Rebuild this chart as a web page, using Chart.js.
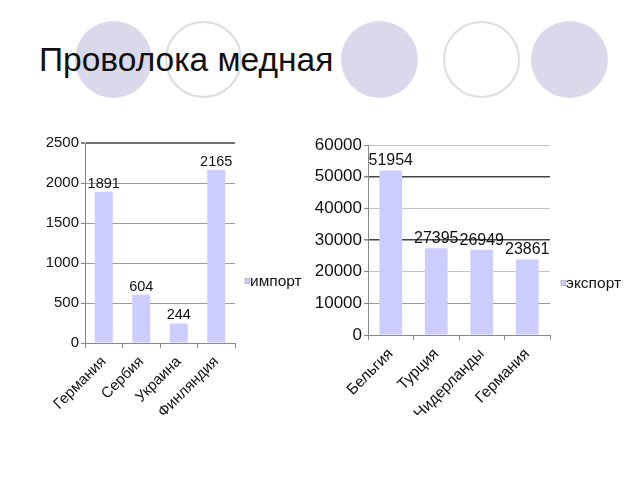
<!DOCTYPE html>
<html><head><meta charset="utf-8">
<script src="https://cdn.jsdelivr.net/npm/chart.js@4"></script>
<style>
html,body{margin:0;padding:0;background:#fff;width:640px;height:480px;overflow:hidden}
.c{position:absolute;border-radius:50%;box-sizing:border-box;width:77px;height:77px;top:21px}
.f{background:#d9d9eb}
.o{border:2px solid #dcdce2;background:#fff}
#title{position:absolute;left:39px;top:43px;font-family:'Liberation Sans',Arial,sans-serif;font-size:33.5px;line-height:34px;color:#111;white-space:nowrap}
canvas{position:absolute;left:0;top:0}
</style></head><body>
<div class="c f" style="left:75px"></div>
<div class="c o" style="left:165px"></div>
<div class="c f" style="left:341px"></div>
<div class="c o" style="left:443px"></div>
<div class="c f" style="left:531px"></div>
<div id="title">Проволока медная</div>
<canvas id="c1" width="640" height="480"></canvas>
<canvas id="c2" width="640" height="480"></canvas>
<script>
const importCategories = ['Германия', 'Сербия', 'Украина', 'Финляндия'];
const importValues = [1891, 604, 244, 2165];
const importLabel = 'импорт';
const importMax = 2500;
const importStep = 500;

const exportCategories = ['Бельгия', 'Турция', 'Нидерланды', 'Германия'];
const exportValues = [51954, 27395, 26949, 23861];
const exportLabel = 'экспорт';
const exportMax = 60000;
const exportStep = 10000;

const FONT = "'Liberation Sans', Arial, sans-serif";
const BAR = '#ccccff';

const extras = {
  id: 'extras',
  afterDatasetsDraw(chart, args, opts) {
    const ctx = chart.ctx;
    const meta = chart.getDatasetMeta(0);
    const ds = chart.data.datasets[0];
    ctx.save();
    ctx.fillStyle = '#111';
    ctx.font = opts.labelSize + 'px ' + FONT;
    ctx.textAlign = 'center';
    ctx.textBaseline = 'alphabetic';
    meta.data.forEach((el, i) => {
      ctx.fillText(String(ds.data[i]), el.x, el.y - opts.labelGap);
    });
    // legend
    const ca = chart.chartArea;
    const x = ca.right + opts.legendDx;
    const y = opts.legendY;
    ctx.fillStyle = BAR;
    ctx.fillRect(x, y - 2.5, 5, 5);
    ctx.strokeStyle = '#9a9ab0';
    ctx.lineWidth = 0.6;
    ctx.strokeRect(x, y - 2.5, 5, 5);
    ctx.fillStyle = '#111';
    ctx.font = opts.legendSize + 'px ' + FONT;
    ctx.textAlign = 'left';
    ctx.textBaseline = 'middle';
    ctx.fillText(ds.label, x + 5, y + 1);
    ctx.restore();
  }
};

function makeChart(id, cats, vals, label, max, step, cfg) {
  return new Chart(document.getElementById(id), {
    type: 'bar',
    data: {
      labels: cats,
      datasets: [{
        label: label,
        data: vals,
        backgroundColor: BAR,
        borderWidth: 0,
        categoryPercentage: 1,
        barPercentage: cfg.barPct
      }]
    },
    options: {
      responsive: false,
      animation: false,
      devicePixelRatio: 1,
      layout: { padding: cfg.padding },
      plugins: {
        legend: { display: false },
        tooltip: { enabled: false },
        extras: cfg.extras
      },
      scales: {
        x: {
          offset: true,
          grid: { offset: true, drawOnChartArea: false, tickLength: 5, tickColor: '#888' },
          border: { color: '#888', width: 1 },
          ticks: { minRotation: 45, maxRotation: 45, color: '#111', padding: 5,
                   font: { family: FONT, size: cfg.catSize } },
          afterFit(s) { s.height = 80; }
        },
        y: {
          min: 0, max: max,
          ticks: { stepSize: step, color: '#111', padding: 2,
                   callback: (v) => String(v),
                   font: { family: FONT, size: cfg.tickSize } },
          grid: {
            tickLength: 4,
            tickColor: '#888',
            color: (c) => cfg.gridColor(c.tick ? c.tick.value : 0),
            lineWidth: (c) => cfg.gridWidth(c.tick ? c.tick.value : 0)
          },
          border: { color: '#888', width: 1 },
          afterFit(s) { s.width = cfg.yWidth; }
        }
      }
    },
    plugins: [extras]
  });
}

makeChart('c1', importCategories, importValues, importLabel, importMax, importStep, {
  barPct: 0.48,
  padding: { left: 40, top: 143, right: 405, bottom: 57 },
  yWidth: 45,
  tickSize: 15,
  catSize: 15,
  gridColor: v => v === 2500 ? '#707070' : '#9a9a9a',
  gridWidth: v => v === 2500 ? 2 : 1,
  extras: { labelSize: 14.5, labelGap: 4, legendDx: 10, legendY: 281, legendSize: 15.5 }
});

makeChart('c2', exportCategories, exportValues, exportLabel, exportMax, exportStep, {
  barPct: 0.5,
  padding: { left: 313, top: 145, right: 90, bottom: 65 },
  yWidth: 55,
  tickSize: 17,
  catSize: 15.5,
  gridColor: v => (v === 50000 || v === 30000) ? '#444' : (v === 10000 ? '#999' : '#c4c4c4'),
  gridWidth: v => (v === 50000 || v === 30000) ? 1.5 : 1,
  extras: { labelSize: 16, labelGap: 5, legendDx: 11, legendY: 283, legendSize: 15.5 }
});
</script>
</body></html>
